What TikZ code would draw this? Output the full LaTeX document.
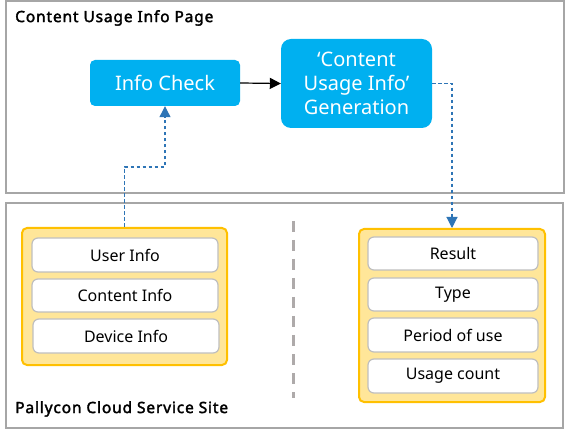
\documentclass[tikz,border=0pt]{standalone}
\usepackage{fontspec}
\setmainfont{Noto Sans}
\newfontfamily\ttlfont{Noto Sans}[FakeBold=2.2,LetterSpace=5.5]
\usetikzlibrary{arrows.meta}
\definecolor{cblue}{HTML}{00B0F0}
\definecolor{yfill}{HTML}{FFE699}
\definecolor{ydraw}{HTML}{FFC000}
\definecolor{ibord}{HTML}{BFBFBF}
\definecolor{frame}{HTML}{A6A6A6}
\definecolor{dblue}{HTML}{2E75B6}
\definecolor{divg}{HTML}{AEAAAA}
\tikzset{
  frm/.style={draw=frame, line width=1.2pt, fill=white},
  bluebox/.style={rectangle, rounded corners=5pt, fill=cblue, text=white, inner sep=0pt, font=\fontsize{20}{24}\selectfont, align=center},
  ybox/.style={rectangle, rounded corners=5pt, fill=yfill, draw=ydraw, line width=2pt, inner sep=0pt},
  ibox/.style={rectangle, rounded corners=6pt, fill=white, draw=ibord, line width=1.2pt, inner sep=0pt, font=\fontsize{16}{19}\selectfont},
  ttl/.style={font=\ttlfont\fontsize{15.5}{18}\selectfont, anchor=west, inner sep=0pt},
  dconn/.style={draw=dblue, line width=1.1pt, dash pattern=on 3.5pt off 2.5pt, -{Triangle[length=11pt,width=11pt,fill=dblue]}},
}
\begin{document}
\begin{tikzpicture}[x=1pt,y=-1pt]
\useasboundingbox (0,0) rectangle (565,430);
% frames
\node[frm, minimum width=558pt, minimum height=192pt, inner sep=0pt] (topf) at (285,97) {};
\node[frm, minimum width=557pt, minimum height=225pt, inner sep=0pt] (botf) at (284.5,315.5) {};
\node[ttl] (t1) at (15,18) {Content Usage Info Page};
\node[ttl] (t2) at (15,409) {Pallycon Cloud Service Site};
% blue boxes
\node[bluebox, minimum width=150pt, minimum height=46pt] (ic) at (165,83) {Info Check};
\node[bluebox, rounded corners=10pt, minimum width=151pt, minimum height=89pt] (gen) at (356.5,83.5) {\baselineskip=24.5pt ‘Content\\Usage Info’\\Generation};
\draw[line width=1.2pt, -{Triangle[length=11pt,width=11pt]}] (ic.east) -- (gen.west);
% yellow boxes
\node[ybox, minimum width=205pt, minimum height=137pt] (ly) at (124.5,296.5) {};
\node[ibox, minimum width=186pt, minimum height=34pt] (u1) at (125,255) {User Info};
\node[ibox, minimum width=186pt, minimum height=33pt] (u2) at (125,295.5) {Content Info};
\node[ibox, minimum width=186pt, minimum height=34pt] (u3) at (126,336) {Device Info};
\node[ybox, minimum width=186pt, minimum height=173pt] (ry) at (452,315.5) {};
\node[ibox, minimum width=170pt, minimum height=33pt] (r1) at (453,253.5) {Result};
\node[ibox, minimum width=170pt, minimum height=33pt] (r2) at (453,294.5) {Type};
\node[ibox, minimum width=170pt, minimum height=34pt] (r3) at (453,335) {Period of use};
\node[ibox, minimum width=170pt, minimum height=34pt] (r4) at (453,376) {Usage count};
% divider
\coordinate (dv1) at (293,221);
\coordinate (dv2) at (293,398);
\draw[divg, line width=3pt, dash pattern=on 11pt off 8pt] (dv1) -- (dv2);
% dashed connectors
\coordinate (c1) at (140,167);
\draw[dconn] (ly.north) |- (c1) -| (ic.south);
\draw[dconn] (gen.east) -| (ry.north);
\end{tikzpicture}
\end{document}
